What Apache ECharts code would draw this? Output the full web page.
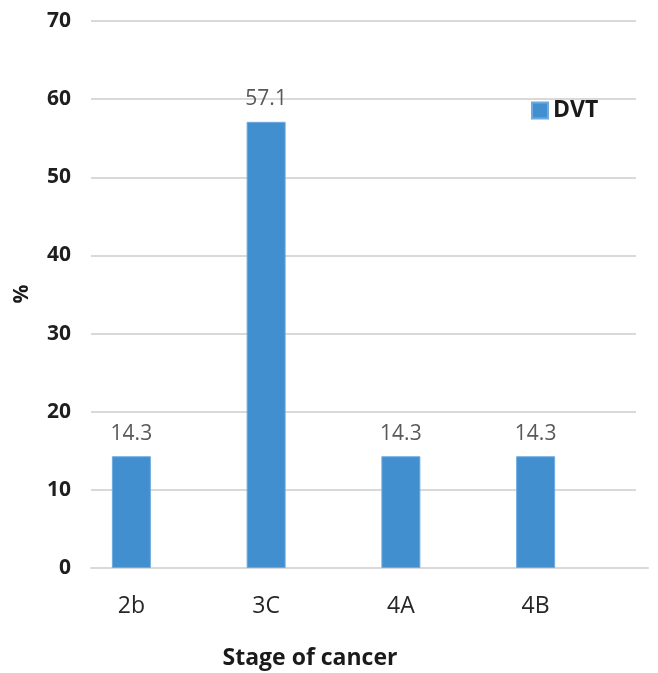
<!DOCTYPE html>
<html>
<head>
<meta charset="utf-8">
<script src="https://cdn.jsdelivr.net/npm/echarts@6/dist/echarts.min.js"></script>
<style>
  html, body { margin: 0; padding: 0; background: #ffffff; }
  #chart { width: 658px; height: 673px; }
</style>
</head>
<body>
<div id="chart"></div>
<script>
// Share of DVT cases by cancer stage (%)
const stages = ['2b', '3C', '4A', '4B'];
const dvtPercent = [14.3, 57.1, 14.3, 14.3];
const yTicks = { min: 0, max: 70, step: 10 };

const FONT = '"Open Sans", "Liberation Sans", sans-serif';
const GRID_COLOR = '#d9d9d9';
const BAR_COLOR = '#428fd0';

const chart = echarts.init(document.getElementById('chart'), null, { renderer: 'canvas' });

chart.setOption({
  backgroundColor: '#ffffff',
  animation: false,
  textStyle: { fontFamily: FONT },
  legend: {
    data: ['DVT'],
    left: 531,
    top: 99,
    padding: 0,
    icon: 'rect',
    itemWidth: 16,
    itemHeight: 16,
    textStyle: { fontFamily: FONT, fontSize: 23, fontWeight: 'bold', color: '#1a1a1a' }
  },
  grid: [
    // value grid: gridlines and tick labels
    { left: 91, right: 22, top: 21, bottom: 105 },
    // category grid: bars and category labels
    { left: 64, right: 55, top: 21, bottom: 105 },
    // baseline
    { left: 91, right: 10, top: 21, bottom: 105 }
  ],
  xAxis: [
    { gridIndex: 0, type: 'category', data: stages, show: false },
    {
      gridIndex: 1, type: 'category', data: stages,
      axisLine: { show: false }, axisTick: { show: false },
      axisLabel: { fontFamily: FONT, fontSize: 23, color: '#262626', margin: 27 }
    },
    {
      gridIndex: 2, type: 'category', data: stages,
      axisLine: { show: true, lineStyle: { color: GRID_COLOR, width: 2 } },
      axisTick: { show: false }, axisLabel: { show: false }
    }
  ],
  yAxis: [
    {
      gridIndex: 0, type: 'value', min: yTicks.min, max: yTicks.max, interval: yTicks.step,
      axisLine: { show: false }, axisTick: { show: false },
      axisLabel: { fontFamily: FONT, fontSize: 21, fontWeight: 'bold', color: '#1f1f1f', margin: 20 },
      splitLine: { show: true, lineStyle: { color: GRID_COLOR, width: 2 } }
    },
    {
      gridIndex: 1, type: 'value', min: yTicks.min, max: yTicks.max, interval: yTicks.step,
      show: false, splitLine: { show: false }
    },
    {
      gridIndex: 2, type: 'value', min: yTicks.min, max: yTicks.max, interval: yTicks.step,
      show: false, splitLine: { show: false }
    }
  ],
  series: [
    {
      name: 'DVT',
      type: 'bar',
      xAxisIndex: 1,
      yAxisIndex: 1,
      data: dvtPercent,
      barWidth: 39,
      itemStyle: { color: BAR_COLOR, borderColor: '#6eaae0', borderWidth: 1 },
      label: {
        show: true,
        position: 'top',
        distance: 12,
        fontFamily: FONT,
        fontSize: 21,
        color: '#595959',
        formatter: p => p.value.toFixed(1)
      }
    }
  ],
  graphic: [
    {
      type: 'text',
      x: 22, y: 294,
      rotation: Math.PI / 2,
      style: {
        text: '%', fontFamily: FONT, fontSize: 21, fontWeight: 'bold', fill: '#1a1a1a',
        textAlign: 'center', textVerticalAlign: 'middle'
      }
    },
    {
      type: 'text',
      x: 310, y: 658,
      style: {
        text: 'Stage of cancer', fontFamily: FONT, fontSize: 23, fontWeight: 'bold', fill: '#1a1a1a',
        textAlign: 'center', textVerticalAlign: 'middle'
      }
    }
  ]
});
</script>
</body>
</html>
